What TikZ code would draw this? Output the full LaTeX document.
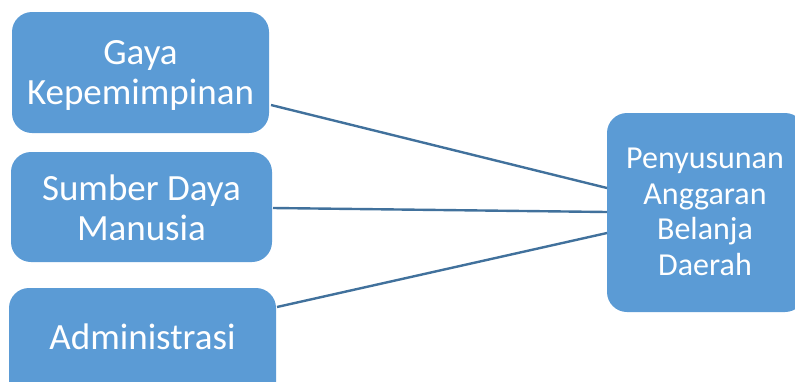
\documentclass[tikz,border=0pt]{standalone}
\usepackage{fontspec}
\setmainfont{Carlito}
\definecolor{boxblue}{HTML}{5B9BD5}
\definecolor{lineblue}{HTML}{41719C}
\begin{document}
\begin{tikzpicture}[x=1pt,y=-1pt,
  bx/.style={fill=boxblue,draw=none,rounded corners=20pt},
  lbl/.style={font=\fontsize{37}{40}\selectfont,align=center,text=white,inner sep=0pt},
  lblr/.style={font=\fontsize{32}{35.5}\selectfont,align=center,text=white,inner sep=0pt},
  conn/.style={draw=lineblue,line width=2.4pt}]
\useasboundingbox (0,0) rectangle (795,381);
\begin{scope}
\clip (0,0) rectangle (795,381);
\path[bx] (12,12) rectangle (269,133);
\node[lbl] (a) at (140.5,75) {Gaya\\Kepemimpinan};
\path[bx] (11,152) rectangle (272,262);
\node[lbl] (b) at (141.5,208) {Sumber Daya\\Manusia};
\path[bx] (9,288) rectangle (276,410);
\node[lbl] (c) at (142.5,337) {Administrasi};
\path[bx] (607,113) rectangle (805,312);
\node[lblr] (d) at (705,212) {Penyusunan\\Anggaran\\Belanja\\Daerah};
\end{scope}
\coordinate (a1) at (271,105);
\coordinate (b1) at (273,208);
\coordinate (c1) at (277,307);
\coordinate (d1) at (607,188);
\coordinate (d2) at (607,212);
\coordinate (d3) at (607,233);
\draw[conn] (a1) -- (d1);
\draw[conn] (b1) -- (d2);
\draw[conn] (c1) -- (d3);
\end{tikzpicture}
\end{document}
